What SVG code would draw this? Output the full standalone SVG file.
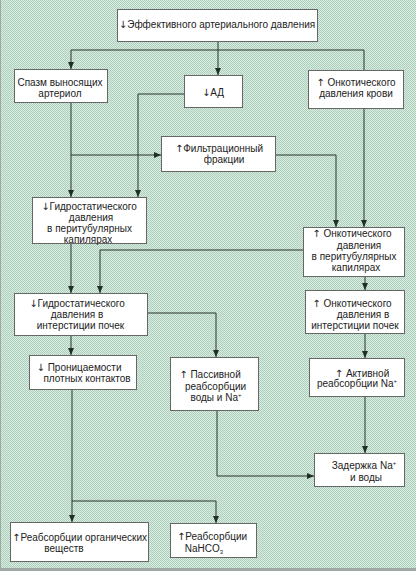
<svg xmlns="http://www.w3.org/2000/svg" width="416" height="571" viewBox="0 0 416 571">
<defs>
<pattern id="bg" width="2" height="2" patternUnits="userSpaceOnUse">
<rect width="2" height="2" fill="#dcece2"/>
<rect width="1" height="1" fill="#a9cfba"/>
<rect x="1" y="1" width="1" height="1" fill="#a9cfba"/>
</pattern>
<marker id="ah" markerUnits="userSpaceOnUse" markerWidth="8" markerHeight="8" viewBox="0 0 8 8" refX="7" refY="4" orient="auto">
<path d="M0,1 L7,4 L0,7 Z" fill="#1f2f22"/>
</marker>
<style>
.b{fill:#fff;stroke:#666;stroke-width:1}
.t{font-family:"Liberation Sans",Arial,sans-serif;font-size:10px;fill:#222;text-anchor:middle}
.r{font-family:"DejaVu Sans",sans-serif;font-size:10px}
.c{fill:none;stroke:#2a342c;stroke-width:1}
.a{marker-end:url(#ah)}
</style>
</defs>
<rect width="416" height="571" fill="url(#bg)"/>
<rect x="0" y="0" width="1" height="571" fill="#a0a8a4"/>
<rect x="0" y="568" width="416" height="3" fill="#a0a8a4"/>

<g id="connectors">
<path class="c a" d="M218,41 V75"/>
<path class="c" d="M71,50 H364 V70"/>
<path class="c a" d="M71,50 V69"/>
<path class="c a" d="M184,94 H138 V197"/>
<path class="c a" d="M71,102 V197"/>
<path class="c a" d="M71,155 H161"/>
<path class="c a" d="M275,155 H336 V227"/>
<path class="c a" d="M364,108 V227"/>
<path class="c a" d="M303,250 H100 V293"/>
<path class="c a" d="M71,244 V293"/>
<path class="c a" d="M147,313 H216 V357"/>
<path class="c a" d="M71,335 V355"/>
<path class="c a" d="M365,276 V290"/>
<path class="c a" d="M365,333 V358"/>
<path class="c a" d="M365,396 V453"/>
<path class="c a" d="M217,411 V476 H314"/>
<path class="c a" d="M72,389 V522"/>
<path class="c a" d="M72,501 H216 V523"/>
</g>

<g id="n1"><rect class="b" x="117.5" y="9.5" width="200" height="32"/>
<text class="t" x="217" y="28"><tspan class="r">↓</tspan>Эффективного артериального давления</text></g>

<g id="n2"><rect class="b" x="14.5" y="69.5" width="93" height="33"/>
<text class="t" x="60" y="85.5">Спазм выносящих</text>
<text class="t" x="60" y="97">артериол</text></g>

<g id="n3"><rect class="b" x="184.5" y="75.5" width="58" height="32"/>
<text class="t" x="213" y="95.5"><tspan class="r">↓</tspan>АД</text></g>

<g id="n4"><rect class="b" x="308.5" y="70.5" width="95" height="38"/>
<text class="t" x="356" y="85.5"><tspan class="r">↑</tspan> Онкотического</text>
<text class="t" x="356" y="97">давления крови</text></g>

<g id="n5"><rect class="b" x="161.5" y="136.5" width="114" height="35"/>
<text class="t" x="219" y="151.5"><tspan class="r">↑</tspan>Фильтрационный</text>
<text class="t" x="224" y="163">фракции</text></g>

<g id="n6"><rect class="b" x="32.5" y="197.5" width="114" height="46"/>
<text class="t" x="89" y="209.5"><tspan class="r">↓</tspan>Гидростатического</text>
<text class="t" x="91" y="220.5">давления</text>
<text class="t" x="89.5" y="232">в перитубулярных</text>
<text class="t" x="88" y="243">капилярах</text></g>

<g id="n7"><rect class="b" x="303.5" y="227.5" width="101" height="49"/>
<text class="t" x="352" y="237"><tspan class="r">↑</tspan> Онкотического</text>
<text class="t" x="359" y="248.5">давления</text>
<text class="t" x="354" y="260">в перитубулярных</text>
<text class="t" x="356" y="271">капилярах</text></g>

<g id="n8"><rect class="b" x="14.5" y="293.5" width="133" height="42"/>
<text class="t" x="77" y="306.5"><tspan class="r">↓</tspan>Гидростатического</text>
<text class="t" x="77" y="317.5">давления в</text>
<text class="t" x="80.5" y="328.5">интерстиции почек</text></g>

<g id="n9"><rect class="b" x="305.5" y="290.5" width="99" height="43"/>
<text class="t" x="352" y="306.5"><tspan class="r">↑</tspan> Онкотического</text>
<text class="t" x="363" y="317.5">давления в</text>
<text class="t" x="355" y="328.5">интерстиции почек</text></g>

<g id="n10"><rect class="b" x="29.5" y="355.5" width="107" height="34"/>
<text class="t" x="79" y="370.5"><tspan class="r">↓</tspan> Проницаемости</text>
<text class="t" x="87" y="382">плотных контактов</text></g>

<g id="n11"><rect class="b" x="170.5" y="357.5" width="88" height="53"/>
<text class="t" x="210" y="377.5"><tspan class="r">↑</tspan>  Пассивной</text>
<text class="t" x="215.5" y="389.5">реабсорбции</text>
<text class="t" x="216" y="401">воды и Na<tspan font-size="6" dy="-4">+</tspan></text></g>

<g id="n12"><rect class="b" x="309.5" y="358.5" width="95" height="38"/>
<text class="t" x="362" y="376.5"><tspan class="r">↑</tspan> Активной</text>
<text class="t" x="357" y="387">реабсорбции Na<tspan font-size="6" dy="-4">+</tspan></text></g>

<g id="n13"><rect class="b" x="314.5" y="453.5" width="90" height="33"/>
<text class="t" x="364" y="468.5">Задержка Na<tspan font-size="6" dy="-4">+</tspan></text>
<text class="t" x="366" y="480.5">и воды</text></g>

<g id="n14"><rect class="b" x="10.5" y="522.5" width="138" height="39"/>
<text class="t" x="79.5" y="540.5"><tspan class="r">↑</tspan>Реабсорбции органических</text>
<text class="t" x="64" y="551.5">веществ</text></g>

<g id="n15"><rect class="b" x="170.5" y="523.5" width="86" height="34"/>
<text class="t" x="212" y="539.5"><tspan class="r">↑</tspan>Реабсорбции</text>
<text class="t" x="204" y="551.5">NaHCO<tspan font-size="6" dy="2">3</tspan></text></g>
</svg>
